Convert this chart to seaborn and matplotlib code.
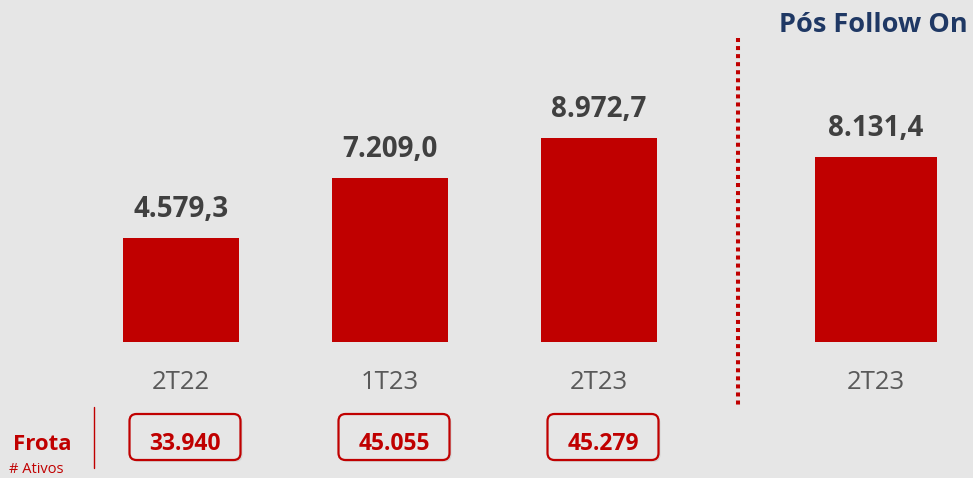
import pandas as pd
import matplotlib.pyplot as plt
from matplotlib.patches import FancyBboxPatch
from matplotlib.transforms import IdentityTransform
import seaborn as sns

# dados
periodos = ['2T22', '1T23', '2T23', '2T23']
valores = [4579.3, 7209.0, 8972.7, 8131.4]
rotulos = ['4.579,3', '7.209,0', '8.972,7', '8.131,4']
frota = ['33.940', '45.055', '45.279']

# layout
x_pos = [0, 1, 2, 3.325]
RED = '#C00000'
BG = '#E6E6E6'
NAVY = '#1F3864'

sns.set_style('white')
plt.rcParams['font.family'] = ['Open Sans', 'DejaVu Sans']

df = pd.DataFrame({'pos': x_pos, 'valor': valores, 'periodo': periodos})

fig = plt.figure(figsize=(9.73, 4.78), dpi=100)
fig.patch.set_facecolor(BG)
ax = fig.add_axes([0, 0, 1, 1])

sns.barplot(data=df.iloc[:3], x='pos', y='valor', native_scale=True, width=0.555,
            color=RED, saturation=1, errorbar=None, linewidth=0, ax=ax)
sns.barplot(data=df.iloc[3:], x='pos', y='valor', native_scale=True, width=0.584,
            color=RED, saturation=1, errorbar=None, linewidth=0, ax=ax)

scale = 43.98  # valor por pixel
ax.set_xlim(-181 / 209, (973 - 181) / 209)
ax.set_ylim(-(478 - 342) * scale, 342 * scale)
ax.set_axis_off()

for x, v, lab, p in zip(df['pos'], df['valor'], rotulos, df['periodo']):
    ax.annotate(lab, xy=(x, v), xytext=(0, 21), textcoords='offset pixels',
                ha='center', va='baseline', fontsize=20, fontweight='bold', color='#404040')
    ax.annotate(p, xy=(x, 0), xytext=(0, -47), textcoords='offset pixels',
                ha='center', va='baseline', fontsize=18.5, color='#595959')

# separador pontilhado
ax.plot([738 / 973, 738 / 973], [1 - 38 / 478, 1 - 408 / 478], transform=ax.transAxes,
        color=RED, lw=2.9, linestyle=(0, (1, 1)), dash_capstyle='butt')

ax.text(968, 446, 'Pós Follow On', transform=IdentityTransform(), ha='right', va='baseline',
        fontsize=19.5, fontweight='bold', color=NAVY)

# frota
ident = IdentityTransform()
ax.text(13, 28, 'Frota', transform=ident, ha='left', va='baseline',
        fontsize=16, fontweight='bold', color=RED)
ax.text(9, 5, '# Ativos', transform=ident, ha='left', va='baseline',
        fontsize=10.5, color=RED)
ax.plot([94, 94], [10, 71], transform=ident, color=RED, lw=1)

for x, txt in zip(x_pos, frota):
    cx = ax.transData.transform((x, 0))[0] + 4
    shadow = FancyBboxPatch((cx - 55.5 + 2, 18 - 2), 111, 46,
                            boxstyle='round,pad=0,rounding_size=7', transform=ident,
                            facecolor='#C8C8C8', edgecolor='none', alpha=0.6, zorder=3)
    box = FancyBboxPatch((cx - 55.5, 18), 111, 46,
                         boxstyle='round,pad=0,rounding_size=7', transform=ident,
                         facecolor=BG, edgecolor=RED, lw=1.6, zorder=4)
    ax.add_patch(shadow)
    ax.add_patch(box)
    ax.text(cx, 28, txt, transform=ident, ha='center', va='baseline',
            fontsize=16.5, fontweight='bold', color=RED, zorder=5)

fig.savefig('out.png', dpi=100, facecolor=BG)
